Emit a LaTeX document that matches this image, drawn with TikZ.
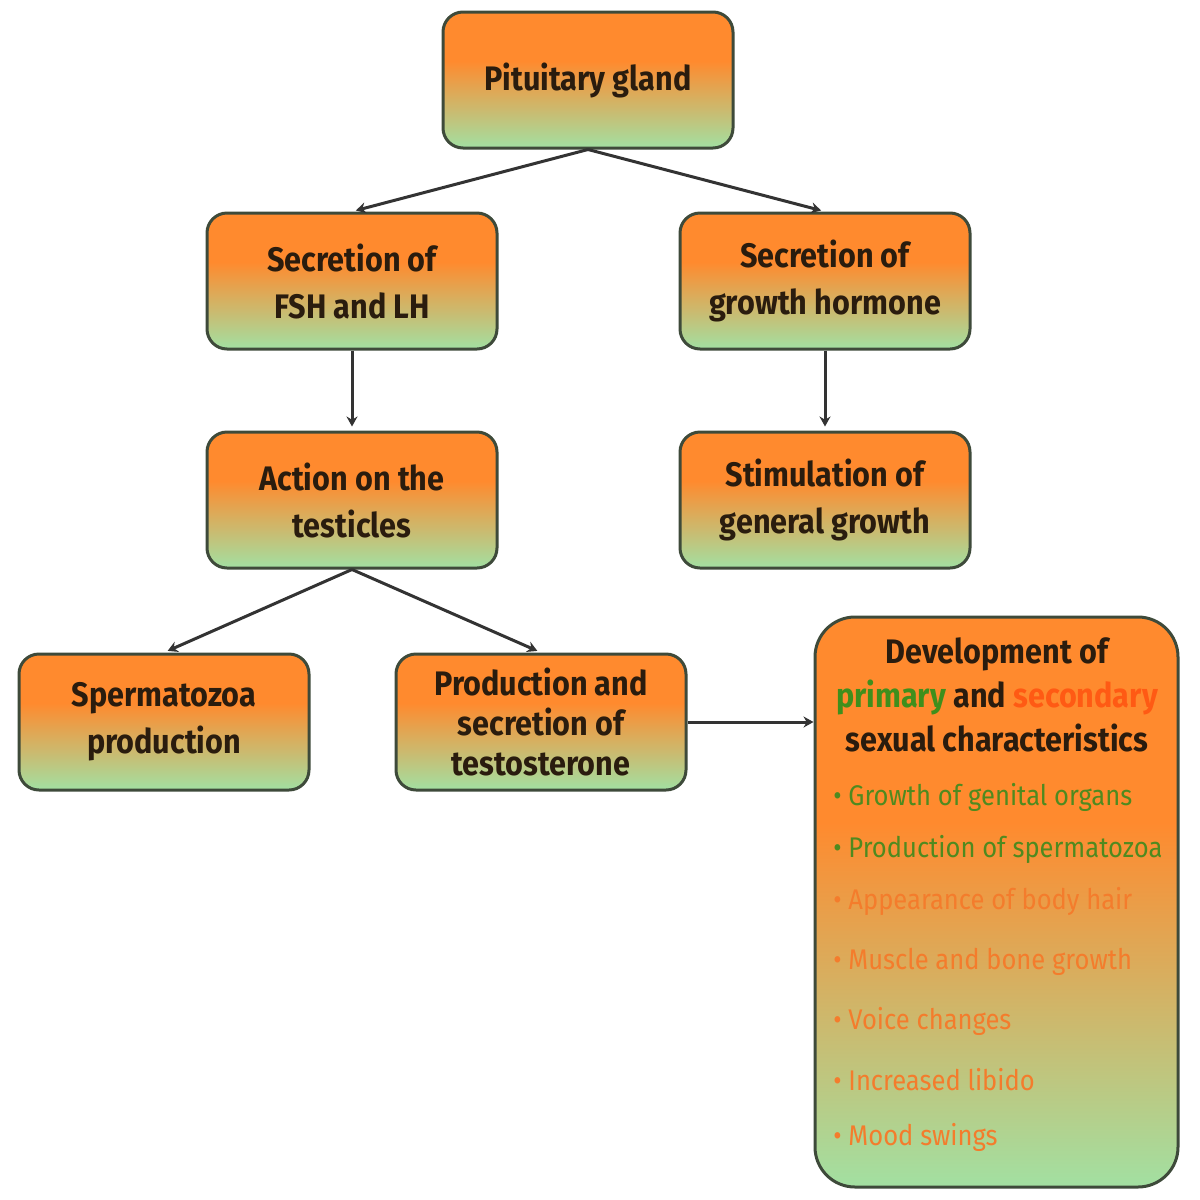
\documentclass[tikz,border=0pt]{standalone}
\usepackage{fontspec}
\setmainfont{Fira Sans}[FakeStretch=0.9]
\usetikzlibrary{arrows.meta}
\definecolor{oorange}{HTML}{FF8A2E}
\definecolor{ogreen}{HTML}{A2E0A2}
\definecolor{boxline}{HTML}{3E4A3A}
\definecolor{arrc}{HTML}{333333}
\definecolor{txt}{HTML}{2A1C0E}
\definecolor{prim}{HTML}{3F8F1C}
\definecolor{sec}{HTML}{FF5A14}
\definecolor{itg}{HTML}{4F8A1F}
\definecolor{ito}{HTML}{F47C2C}
\pgfdeclareverticalshading{og}{100bp}{color(0bp)=(ogreen); color(25bp)=(ogreen); color(57bp)=(oorange); color(100bp)=(oorange)}
\tikzset{
  box/.style={draw=boxline, line width=1.5pt, rounded corners=10pt, shade, shading=og,
    minimum width=145pt, minimum height=68pt, align=center, inner sep=0pt,
    font=\fontsize{17}{23.5}\selectfont\bfseries, text=txt},
  bigbox/.style={draw=boxline, line width=1.5pt, rounded corners=20pt, shade, shading=og,
    minimum width=181.5pt, minimum height=285pt, inner sep=0pt},
  title/.style={align=center, inner sep=0pt, font=\fontsize{17}{22}\selectfont\bfseries, text=txt},
  item/.style={anchor=west, inner sep=0pt, font=\fontsize{14.2}{17}\selectfont},
  arr/.style={-{Stealth[length=5pt,width=5.5pt]}, line width=1.5pt, draw=arrc, shorten >=2pt}
}
\begin{document}
\begin{tikzpicture}[x=0.5pt,y=-0.5pt]
\useasboundingbox (0,0) rectangle (1200,1200);
\node[box] (pit) at (588,80) {Pituitary gland};
\node[box] (fsh) at (352,281) {Secretion of\\FSH and LH};
\node[box] (gh) at (825,281) {Secretion of\\growth hormone};
\node[box] (act) at (352,500) {Action on the\\testicles};
\node[box] (stim) at (825,500) {Stimulation of\\general growth};
\node[box] (sperm) at (164,722) {Spermatozoa\\production};
\node[box, font=\fontsize{17}{20}\selectfont\bfseries] (prod) at (541,722) {Production and\\secretion of\\testosterone};
\node[bigbox] (dev) at (996.5,902) {};
\node[title] (devt) at (997,695) {Development of\\\textcolor{prim}{primary} and \textcolor{sec}{secondary}\\sexual characteristics};
\node[item, text=itg] (i1) at (833,797) {• Growth of genital organs};
\node[item, text=itg] (i2) at (833,849) {• Production of spermatozoa};
\node[item, text=ito] (i3) at (833,901) {• Appearance of body hair};
\node[item, text=ito] (i4) at (833,962) {• Muscle and bone growth};
\node[item, text=ito] (i5) at (833,1021) {• Voice changes};
\node[item, text=ito] (i6) at (833,1080) {• Increased libido};
\node[item, text=ito] (i7) at (833,1137) {• Mood swings};
\draw[arr] (pit.south) -- (fsh.north);
\draw[arr] (pit.south) -- (gh.north);
\draw[arr] (fsh.south) -- (act.north);
\draw[arr] (gh.south) -- (stim.north);
\draw[arr] (act.south) -- (sperm.north);
\draw[arr] (act.south) -- (prod.north);
\draw[arr, shorten >=0pt] (prod.east) -- (prod.east -| dev.west);
\end{tikzpicture}
\end{document}
